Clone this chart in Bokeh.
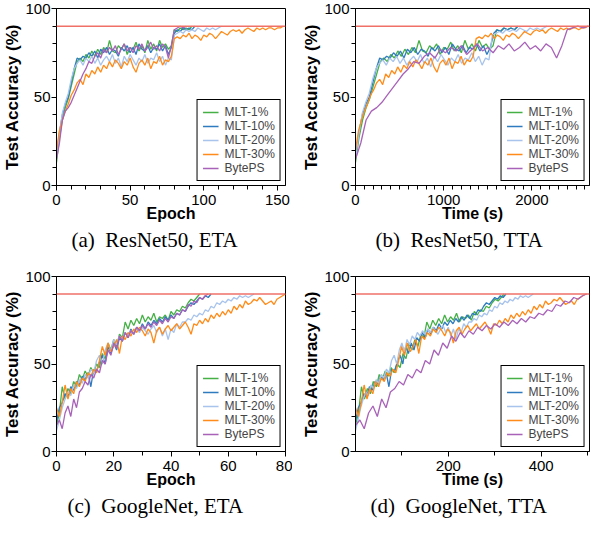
import numpy as np
from bokeh.plotting import figure
from bokeh.layouts import column, row
from bokeh.models import Range1d, FixedTicker, Span, Title
from bokeh.embed import file_html
from bokeh.resources import INLINE

# ---------------- data ----------------
series_names = ["MLT-1%", "MLT-10%", "MLT-20%", "MLT-30%", "BytePS"]
series_colors = ["#45b045", "#2f7bbf", "#a8c4ec", "#ff8c1a", "#a862b8"]
target_acc = 90

# ResNet50 test accuracy, sampled every 2 epochs
resnet_epoch_step = 2
resnet_mlt1 = [13, 27, 37, 44, 49, 56, 63, 70, 72, 70, 74, 72, 76, 73, 77, 74, 78, 75, 82, 76,
               75, 79, 77, 80, 74, 78, 77, 81, 76, 79, 75, 82, 77, 80, 76, 82, 78, 80, 77, 79,
               88, 87, 89, 88, 89, 88, 90]
resnet_mlt10 = [16, 30, 40, 46, 50, 58, 66, 72, 71, 73, 72, 75, 73, 76, 72, 77, 75, 78, 74, 77,
                76, 73, 78, 76, 79, 75, 78, 74, 80, 77, 76, 79, 75, 78, 77, 80, 76, 79, 74, 78,
                86, 88, 87, 89, 88, 89, 88, 90]
resnet_mlt20 = [15, 29, 41, 47, 52, 60, 66, 69, 71, 68, 72, 70, 73, 69, 72, 68, 71, 73, 70, 74,
                69, 72, 67, 73, 70, 74, 71, 68, 72, 70, 74, 69, 72, 71, 75, 70, 73, 68, 72, 71,
                85, 86, 87, 86, 88, 87, 88, 87, 89, 88, 87, 89, 88, 89, 88, 89, 90]
resnet_mlt30 = [20, 31, 37, 42, 46, 51, 54, 58, 60, 57, 63, 61, 65, 63, 67, 64, 68, 66, 70, 67,
                71, 69, 66, 70, 68, 72, 67, 64, 69, 71, 68, 72, 66, 70, 69, 73, 68, 71, 70, 73,
                83, 84, 83, 85, 84, 86, 83, 85, 84, 82, 85, 84, 86, 85, 83, 85, 87, 86, 85, 87,
                88, 87, 88, 86, 88, 89, 88, 87, 89, 88, 89, 88, 89, 89, 88, 89, 89, 90]
resnet_byteps = [15, 24, 37, 42, 44, 47, 51, 55, 59, 63, 66, 70, 69, 73, 75, 72, 77, 75, 78, 76,
                 79, 74, 77, 80, 76, 78, 75, 79, 77, 80, 76, 78, 81, 77, 79, 76, 80, 78, 72, 79,
                 88, 89, 90, 89, 90]
# seconds per epoch for each method (ResNet50)
resnet_sec_per_epoch = [20.0, 19.6, 19.4, 17.1, 30.0]

# GoogleNet test accuracy, every epoch
googlenet_mlt1 = [15, 22, 37, 30, 36, 33, 40, 37, 44, 41, 46, 43, 48, 45, 50, 48, 56, 53, 62, 58,
                  64, 60, 67, 65, 74, 70, 75, 72, 76, 73, 78, 74, 77, 75, 79, 74, 77, 76, 78, 75,
                  80, 78, 81, 80, 83, 82, 85, 87, 86, 88, 90]
googlenet_mlt10 = [17, 25, 28, 33, 31, 37, 35, 40, 38, 43, 41, 45, 37, 47, 46, 51, 55, 50, 60, 56,
                   62, 58, 65, 63, 68, 65, 70, 67, 71, 69, 73, 70, 74, 72, 75, 73, 76, 74, 77, 75,
                   78, 76, 79, 78, 81, 80, 83, 85, 84, 86, 88, 87, 89, 88, 90]
googlenet_mlt20 = [12, 18, 25, 30, 34, 32, 38, 36, 41, 39, 44, 42, 47, 45, 52, 55, 50, 58, 62, 57,
                   64, 61, 66, 64, 68, 66, 69, 67, 70, 68, 71, 69, 67, 70, 72, 68, 71, 66, 70, 64,
                   70, 68, 73, 71, 74, 74, 76, 75, 78, 77, 79, 78, 81, 80, 83, 82, 85, 84, 86, 85,
                   87, 86, 88, 87, 89, 88, 89, 88, 89, 90]
googlenet_mlt30 = [25, 20, 28, 38, 30, 36, 33, 40, 37, 42, 40, 45, 43, 47, 45, 52, 60, 55, 62, 57,
                   60, 64, 56, 66, 64, 68, 66, 70, 68, 71, 69, 66, 70, 68, 62, 69, 71, 67, 70, 72,
                   69, 71, 73, 70, 72, 74, 71, 67, 73, 72, 75, 73, 76, 74, 78, 76, 79, 77, 80, 78,
                   81, 79, 83, 81, 84, 82, 86, 84, 85, 87, 86, 88, 86, 84, 85, 86, 84, 87, 88, 89,
                   90]
googlenet_byteps = [15, 18, 13, 22, 26, 20, 30, 25, 34, 36, 40, 38, 44, 42, 47, 45, 52, 50, 58, 55,
                    62, 59, 66, 63, 68, 65, 69, 67, 71, 69, 72, 70, 73, 71, 74, 72, 75, 73, 76, 74,
                    77, 76, 79, 78, 81, 80, 84, 83, 86, 85, 88, 87, 89, 90]
googlenet_sec_per_epoch = [6.4, 6.0, 5.55, 6.2, 9.4]

# tick labels
y_ticks = [0, 50, 100]
y_minor = list(range(0, 101, 10))
a_ticks = [0, 50, 100, 150]
a_minor = list(range(0, 160, 10))
b_ticks = [0, 1000, 2000]
b_minor = list(range(0, 2700, 100))
c_ticks = [0, 20, 40, 60, 80]
c_minor = list(range(0, 81, 10))
d_ticks = [200, 400]
d_minor = [100, 300, 500]

captions = ["(a)\u00a0 ResNet50, ETA", "(b)\u00a0 ResNet50, TTA",
            "(c)\u00a0 GoogleNet, ETA", "(d)\u00a0 GoogleNet, TTA"]

resnet_acc = [resnet_mlt1, resnet_mlt10, resnet_mlt20, resnet_mlt30, resnet_byteps]
googlenet_acc = [googlenet_mlt1, googlenet_mlt10, googlenet_mlt20, googlenet_mlt30, googlenet_byteps]

SANS = "Liberation Sans"
SERIF = "Liberation Serif"


def make_panel(xs_list, ys_list, x_end, ticks, minor, xlabel, caption, width, height,
               bl, br, bt, bb, cap_offset, x_start=0):
    p = figure(width=width, height=height, output_backend="svg", toolbar_location=None,
               x_range=Range1d(x_start, x_end), y_range=Range1d(0, 100),
               min_border_left=bl, min_border_right=br, min_border_top=bt, min_border_bottom=bb)
    p.xgrid.visible = False
    p.ygrid.visible = False
    p.outline_line_color = "black"
    p.outline_line_width = 1
    p.outline_line_alpha = 1
    p.background_fill_color = "white"
    p.border_fill_color = "white"

    for xs, ys, name, col in zip(xs_list, ys_list, series_names, series_colors):
        p.line(xs, ys, line_color=col, line_width=1.3, legend_label=name)

    p.add_layout(Span(location=target_acc, dimension="width", line_color="#f07068",
                      line_width=1.6))

    p.xaxis.ticker = FixedTicker(ticks=ticks, minor_ticks=minor)
    p.yaxis.ticker = FixedTicker(ticks=y_ticks, minor_ticks=y_minor)
    p.xaxis.axis_label = xlabel
    p.yaxis.axis_label = "Test Accuracy (%)"
    for ax in (p.xaxis, p.yaxis):
        ax.axis_line_color = "black"
        ax.major_tick_line_color = "black"
        ax.minor_tick_line_color = "black"
        ax.major_tick_in = 0
        ax.major_tick_out = 5
        ax.minor_tick_in = 0
        ax.minor_tick_out = 4
        ax.major_label_text_font = SANS
        ax.major_label_text_font_size = "15px"
        ax.major_label_text_color = "black"
        ax.axis_label_text_font = SANS
        ax.axis_label_text_font_style = "bold"
        ax.axis_label_text_color = "black"
    p.xaxis.axis_label_text_font_size = "16px"
    p.yaxis.axis_label_text_font_size = "17px"
    p.xaxis.major_label_standoff = 4
    p.xaxis.axis_label_standoff = -3
    p.yaxis.major_label_standoff = 1
    p.yaxis.axis_label_standoff = 0

    lg = p.legend[0]
    lg.location = "bottom_right"
    lg.margin = 4
    lg.padding = 5
    lg.spacing = 0
    lg.label_text_font = SANS
    lg.label_text_font_size = "12px"
    lg.label_height = 12
    lg.glyph_height = 12
    lg.glyph_width = 16
    lg.label_standoff = 6
    lg.border_line_color = "black"
    lg.border_line_width = 1
    lg.border_line_alpha = 1
    lg.background_fill_alpha = 1

    t = Title(text=caption, align="left", text_font=SERIF, text_font_size="21px",
              text_font_style="normal", text_color="black", offset=cap_offset, standoff=2)
    p.add_layout(t, "below")
    return p


resnet_epochs = [np.arange(len(a)) * resnet_epoch_step for a in resnet_acc]
resnet_time = [e * s for e, s in zip(resnet_epochs, resnet_sec_per_epoch)]
google_epochs = [np.arange(len(a)) for a in googlenet_acc]
google_time = [e * s for e, s in zip(google_epochs, googlenet_sec_per_epoch)]

# content area must fit 592 x 522 (608x538 window minus 8px margins)
pa = make_panel(resnet_epochs, resnet_acc, 155.5, a_ticks, a_minor, "Epoch", captions[0],
                292, 258, 52, 7, 8, 73, 15)
pb = make_panel(resnet_time, resnet_acc, 2653, b_ticks, b_minor, "Time (s)", captions[1],
                300, 258, 63, 3, 8, 73, 20)
pc = make_panel(google_epochs, googlenet_acc, 80, c_ticks, c_minor, "Epoch", captions[2],
                292, 264, 52, 7, 18, 71, 11)
pd = make_panel(google_time, googlenet_acc, 504, d_ticks, d_minor, "Time (s)", captions[3],
                300, 264, 63, 3, 18, 71, 15)

layout = column(row(pa, pb), row(pc, pd))
open("out.html", "w").write(file_html(layout, INLINE))
